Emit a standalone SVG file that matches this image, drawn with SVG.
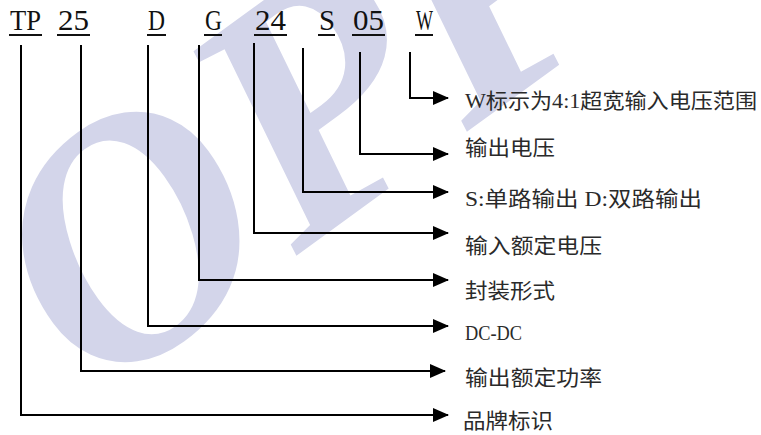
<svg xmlns="http://www.w3.org/2000/svg" width="761" height="435" viewBox="0 0 761 435">
<style>
.code{font-family:"Liberation Serif","DejaVu Serif",serif;font-size:30px;fill:#111;}
.ul{stroke:#111;stroke-width:2;}
.lbl{font-family:"Liberation Serif","Noto Sans CJK SC",sans-serif;font-size:21px;fill:#2a2a2a;}
.conn{fill:none;stroke:#000;stroke-width:2;marker-end:url(#arr);}
.wm{font-family:"Liberation Serif","DejaVu Serif",serif;font-style:italic;font-weight:bold;font-size:345px;fill:#d3d5ea;}
</style>
<defs>
<marker id="arr" markerUnits="userSpaceOnUse" markerWidth="16" markerHeight="14" refX="15" refY="7" orient="auto" viewBox="0 0 16 14">
<path d="M0,0 L16,7 L0,14 z" fill="#000"/>
</marker>
</defs>
<rect width="761" height="435" fill="#fff"/>
<g id="watermark">
<text class="wm" transform="translate(95,402) rotate(-36)">OPP</text>
</g>
<g id="code-TP"><text class="code" x="10" y="30" textLength="31" lengthAdjust="spacingAndGlyphs">TP</text><line class="ul" x1="9" y1="35" x2="42" y2="35"/></g>
<g id="code-25"><text class="code" x="58" y="30" textLength="31" lengthAdjust="spacingAndGlyphs">25</text><line class="ul" x1="57" y1="35" x2="90" y2="35"/></g>
<g id="code-D"><text class="code" x="148" y="30" textLength="17" lengthAdjust="spacingAndGlyphs">D</text><line class="ul" x1="147" y1="35" x2="166" y2="35"/></g>
<g id="code-G"><text class="code" x="205" y="30" textLength="17" lengthAdjust="spacingAndGlyphs">G</text><line class="ul" x1="204" y1="35" x2="222" y2="35"/></g>
<g id="code-24"><text class="code" x="255" y="30" textLength="31" lengthAdjust="spacingAndGlyphs">24</text><line class="ul" x1="254" y1="35" x2="287" y2="35"/></g>
<g id="code-S"><text class="code" x="319" y="30" textLength="16" lengthAdjust="spacingAndGlyphs">S</text><line class="ul" x1="318" y1="35" x2="335" y2="35"/></g>
<g id="code-05"><text class="code" x="353" y="30" textLength="31" lengthAdjust="spacingAndGlyphs">05</text><line class="ul" x1="352" y1="35" x2="385" y2="35"/></g>
<g id="code-W"><text class="code" x="416" y="30" textLength="17" lengthAdjust="spacingAndGlyphs">W</text><line class="ul" x1="415" y1="35" x2="433" y2="35"/></g>
<g id="connectors">
<path class="conn" d="M410,52 V98 H448"/>
<path class="conn" d="M360,52 V154 H448"/>
<path class="conn" d="M303,48 V192 H448"/>
<path class="conn" d="M254,43 V233 H448"/>
<path class="conn" d="M199,45 V280 H448"/>
<path class="conn" d="M148,45 V326 H448"/>
<path class="conn" d="M81,45 V371 H445"/>
<path class="conn" d="M21,45 V415 H448"/>
</g>
<g id="label-W"><text class="lbl" x="465" y="108" textLength="292" lengthAdjust="spacingAndGlyphs">W标示为4:1超宽输入电压范围</text></g>
<g id="label-05"><text class="lbl" x="465" y="155" textLength="90" lengthAdjust="spacingAndGlyphs">输出电压</text></g>
<g id="label-S"><text class="lbl" x="465" y="206" textLength="237" lengthAdjust="spacingAndGlyphs">S:单路输出 D:双路输出</text></g>
<g id="label-24"><text class="lbl" x="465" y="253" textLength="137" lengthAdjust="spacingAndGlyphs">输入额定电压</text></g>
<g id="label-G"><text class="lbl" x="465" y="298" textLength="90" lengthAdjust="spacingAndGlyphs">封装形式</text></g>
<g id="label-D"><text class="lbl" x="465" y="340" textLength="57" lengthAdjust="spacingAndGlyphs">DC-DC</text></g>
<g id="label-25"><text class="lbl" x="465" y="385" textLength="137" lengthAdjust="spacingAndGlyphs">输出额定功率</text></g>
<g id="label-TP"><text class="lbl" x="463" y="428" textLength="90" lengthAdjust="spacingAndGlyphs">品牌标识</text></g>
</svg>
